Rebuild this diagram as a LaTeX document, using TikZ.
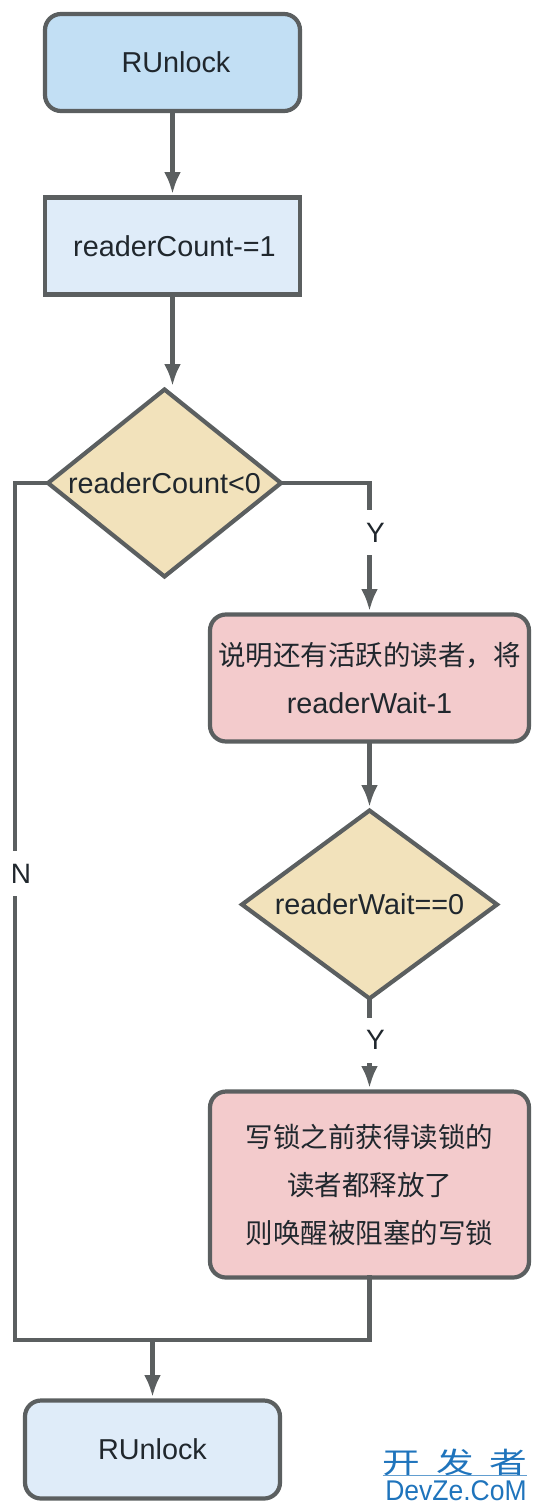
\documentclass[tikz,border=0pt]{standalone}
\usepackage{fontspec}
\setmainfont{Liberation Sans}
\newfontfamily\cjk{Noto Sans CJK SC}
\usetikzlibrary{positioning,shapes.geometric,arrows.meta}
\definecolor{linegray}{HTML}{5B5F60}
\definecolor{inkdark}{HTML}{20272D}
\definecolor{markblue}{HTML}{1F74BC}
\definecolor{pinkfill}{HTML}{F3CBCC}
\definecolor{sandfill}{HTML}{F2E2BB}
\definecolor{startfill}{HTML}{C2DFF4}
\definecolor{softfill}{HTML}{DFECF9}
\newcommand{\zhtext}[1]{{\fontsize{27.5}{48}\selectfont\cjk #1}}
\tikzset{mybox/.style={draw=linegray,line width=4.2pt,outer sep=0pt,text=inkdark,align=center,minimum width=255pt,minimum height=97pt,font=\fontsize{28.8}{48}\selectfont},
  myround/.style={mybox,rounded corners=16pt},
  mypink/.style={myround,fill=pinkfill,minimum width=319pt},
  mydiamond/.style={mybox,diamond,fill=sandfill,inner sep=0pt},
  myflow/.style={draw=linegray,line width=4.2pt,-{Latex[length=22pt,width=17pt]},shorten >=3.5pt},
  myline/.style={draw=linegray,line width=4.2pt},
  mylabel/.style={fill=white,text=inkdark,inner sep=0pt,minimum width=24pt,minimum height=45pt,font=\fontsize{28}{33}\selectfont},
  mymark/.style={text=markblue,inner sep=0pt,transform shape}
}

\begin{document}
\begin{tikzpicture}
    \useasboundingbox (0,0) rectangle (539pt,-1512pt);

    % Left column
    \node[myround, fill=startfill] (start) at (172.5pt,-62.5pt) {\hspace*{7pt}RUnlock};
    \node[mybox, fill=softfill, below = 86.5pt of start] (minus) {\hspace*{4pt}readerCount-=1};
    \node[mydiamond, aspect=1.25, minimum width=233pt, minimum height=187pt, below = 95pt of minus, xshift=-8pt] (d1) {readerCount<0};

    % Right column
    \node[mypink, minimum height=127pt, below = 38pt of d1, xshift=205pt] (p1) {\zhtext{说明还有活跃的读者，将}\\readerWait-1};
    \node[mydiamond, aspect=1.36, minimum width=255pt, minimum height=188pt, below = 69pt of p1] (d2) {readerWait==0};
    \node[mypink, minimum height=186pt, below = 93pt of d2] (p2) {\zhtext{写锁之前获得读锁的}\\\zhtext{读者都释放了}\\\zhtext{则唤醒被阻塞的写锁}};

    % End
    \node[myround, fill=softfill, minimum height=98pt, below = 123pt of p2, xshift=-217pt] (end) {RUnlock};

    % Watermark
    \node[mymark, xscale=1.3, font=\fontsize{29}{29}\selectfont] (wm1) at (455pt,-1462pt) {\cjk 开\hspace{12pt}发\hspace{12pt}者};
    \node[mymark, xscale=0.93, font=\fontsize{28.5}{29}\selectfont] (wm2) at (456pt,-1490.5pt) {DevZe.CoM};
    \draw[markblue!70, line width=0.6pt, yshift=-1.5pt] (wm1.south west) -- (wm1.south east);

    % Merge points
    \coordinate (joinleft) at (15pt,-1340pt);
    \coordinate (joinmid) at (end.north |- joinleft);

    % Main flow
    \draw[myflow] (start.south) -- (minus.north);
    \draw[myflow] (minus.south) -- (minus.south |- d1.north);
    \draw[myflow] (d1.east) -| node[mylabel, pos=0.69, xshift=6pt] (ylabel1) {Y} (p1.north);
    \draw[myflow] (p1.south) -- (d2.north);
    \draw[myflow] (d2.south) -- node[mylabel, pos=0.45, xshift=6pt] (ylabel2) {Y} (p2.north);

    % Back to the end
    \draw[myline] (d1.west) -| node[mylabel, pos=0.728, xshift=6pt] (nlabel) {N} (joinleft);
    \draw[myline, line cap=rect] (p2.south) |- (joinleft);
    \draw[myflow] (joinmid) -- (end.north);

\end{tikzpicture}
\end{document}
